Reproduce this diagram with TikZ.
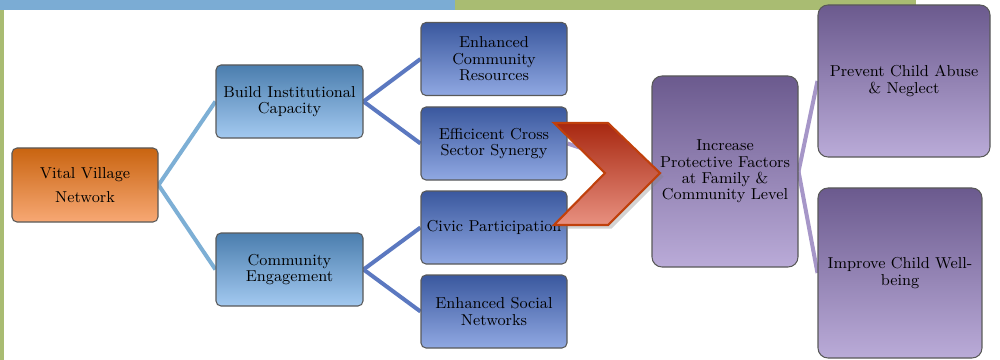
\documentclass[tikz,border=0pt]{standalone}
\usetikzlibrary{shadows,backgrounds}

\definecolor{barblue}{HTML}{7BACD4}
\definecolor{bargreen}{HTML}{A9BC72}
\definecolor{orangetop}{HTML}{C96410}
\definecolor{orangebot}{HTML}{F7A874}
\definecolor{bluetop}{HTML}{4B7EAE}
\definecolor{bluebot}{HTML}{A3C9F0}
\definecolor{navytop}{HTML}{3A589E}
\definecolor{navybot}{HTML}{90A8E2}
\definecolor{purpletop}{HTML}{6B5A8E}
\definecolor{purplebot}{HTML}{BAABD8}
\definecolor{bluelinkc}{HTML}{7DAFD5}
\definecolor{navylinkc}{HTML}{5B78C0}
\definecolor{purplelinkc}{HTML}{A696C8}
\definecolor{chevtop}{HTML}{A82810}
\definecolor{chevbot}{HTML}{E89080}
\definecolor{chevedge}{HTML}{C0400C}

\tikzset{
  box/.style={draw=black!65, line width=0.6pt, rounded corners=1mm, align=center,
    inner sep=1pt, font=\fontsize{9}{9.3}\selectfont},
  orangebox/.style={box, top color=orangetop, bottom color=orangebot,
    minimum width=29.2mm, minimum height=14.8mm},
  bluebox/.style={box, top color=bluetop, bottom color=bluebot,
    minimum width=29.4mm, minimum height=14.6mm},
  navybox/.style={box, top color=navytop, bottom color=navybot,
    minimum width=29.2mm, minimum height=14.6mm},
  purplebox/.style={box, top color=purpletop, bottom color=purplebot, rounded corners=2mm},
  bluelink/.style={draw=bluelinkc, line width=0.8mm},
  navylink/.style={draw=navylinkc, line width=0.8mm},
  purplelink/.style={draw=purplelinkc, line width=0.8mm},
  chevron/.style={draw=chevedge, line width=1.2pt, line join=miter,
    top color=chevtop, bottom color=chevbot,
    drop shadow={opacity=0.35, shadow xshift=2pt, shadow yshift=-2pt}}
}

\begin{document}
\begin{tikzpicture}[x=0.2mm,y=-0.2mm]
    \useasboundingbox (0,0) rectangle (1000,360);
    \fill[barblue]  (0,0) rectangle (455,10);   % top bar, blue part
    \fill[bargreen] (455,0) rectangle (916,10); % top bar, green part
    \fill[bargreen] (0,10) rectangle (4,360);   % left bar

    \coordinate (ChevA)     at (554,123);
    \coordinate (ChevB)     at (608,123);
    \coordinate (ChevTip)   at (660,173);
    \coordinate (ChevC)     at (608,225);
    \coordinate (ChevD)     at (554,225);
    \coordinate (ChevNotch) at (605,173);

    \node[orangebox] (vvn)  at (85,185)     {Vital Village\\[4.6pt]Network};
    \node[bluebox]   (bic)  at (289.5,101.5) {Build Institutional\\Capacity};
    \node[bluebox]   (ce)   at (289.5,269.5) {Community\\Engagement};
    \node[navybox]   (ecr)  at (494,59)     {Enhanced\\Community\\Resources};
    \node[navybox]   (ecss) at (494,143.5)  {Efficicent Cross\\Sector Synergy};
    \node[navybox]   (cp)   at (494,227.5)  {Civic Participation};
    \node[navybox]   (esn)  at (494,311.5)  {Enhanced Social\\Networks};
    \node[purplebox, minimum width=29.2mm, minimum height=38.2mm]
        (ipf) at (725,171.5) {Increase\\Protective Factors\\at Family \&\\Community Level};
    \node[purplebox, minimum width=34.4mm, minimum height=30.4mm]
        (pca) at (904,81)  {Prevent Child Abuse\\\& Neglect};
    \node[purplebox, minimum width=32.8mm, minimum height=34mm]
        (icw) at (900,273) {Improve Child Well-\\being};

    \begin{scope}[on background layer]% links go under the boxes
    \draw[bluelink] (vvn.east) -- (bic.west);
    \draw[bluelink] (vvn.east) -- (ce.west);
    \draw[navylink] (bic.east) -- (ecr.west);
    \draw[navylink] (bic.east) -- (ecss.west);
    \draw[navylink] (ce.east)  -- (cp.west);
    \draw[navylink] (ce.east)  -- (esn.west);
    \draw[purplelink] (ecss.east) -- (ipf.west); % mostly under the chevron
    \draw[purplelink] (ipf.east) -- (pca.west);
    \draw[purplelink] (ipf.east) -- (icw.west);
    \end{scope}

    \path[chevron] (ChevA) -- (ChevB) -- (ChevTip) -- (ChevC)
        -- (ChevD) -- (ChevNotch) -- cycle;
\end{tikzpicture}
\end{document}
